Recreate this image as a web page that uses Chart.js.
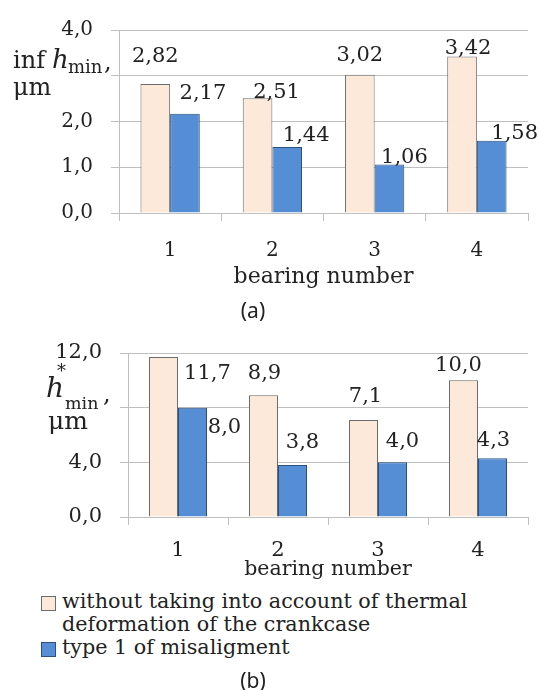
<!doctype html>
<html lang="en">
<head>
<meta charset="utf-8">
<title>Minimum film thickness by bearing</title>
<script src="https://cdn.jsdelivr.net/npm/chart.js@4.4.1/dist/chart.umd.min.js"></script>
<style>
  body { margin: 0; background: #fff; }
  #wrap { position: relative; width: 539px; height: 690px; font-family: 'DejaVu Serif', serif; color: #222; }
  .box { position: absolute; left: 0; width: 539px; }
  .t { position: absolute; white-space: nowrap; line-height: 1; }
  .cap { position: absolute; font-family: 'Noto Sans', sans-serif; font-size: 21px; transform: translate(-50%, -50%); }
  .legend { position: absolute; left: 41px; top: 590px; font-size: 20.7px; line-height: 23px; }
  .legend div { position: relative; padding-left: 21px; }
  .legend span { position: absolute; left: 0; top: 6px; width: 15px; height: 15px; box-sizing: border-box; }
</style>
</head>
<body>
<div id="wrap">
  <div class="box" style="top:0;height:300px"><canvas id="chartA"></canvas></div>
  <div class="box" style="top:320px;height:262px"><canvas id="chartB"></canvas></div>

  <!-- y axis titles, placed over the tick label column like the original -->
  <span class="t" style="left:13px;top:48px;font-size:24px">inf</span>
  <span class="t" style="left:52px;top:46px;font-size:26px;font-style:italic">h</span>
  <span class="t" style="left:68px;top:58px;font-size:18px">min</span>
  <span class="t" style="left:104px;top:50px;font-size:24px">,</span>
  <span class="t" style="left:13px;top:75px;font-size:24px">&mu;m</span>

  <span class="t" style="left:46px;top:374px;font-size:28px;font-style:italic">h</span>
  <span class="t" style="left:57px;top:362px;font-size:18px">*</span>
  <span class="t" style="left:65px;top:395px;font-size:17.5px">min</span>
  <span class="t" style="left:103px;top:382px;font-size:24px">,</span>
  <span class="t" style="left:48px;top:408px;font-size:25px">&mu;m</span>

  <div class="cap" style="left:253px;top:310px">(a)</div>
  <div class="legend" id="legend"></div>
  <div class="cap" style="left:253px;top:680px">(b)</div>
</div>
<script>
    // data
    const bearings = ['1', '2', '3', '4'];
    const seriesNames = ['without taking into account of thermal deformation of the crankcase', 'type 1 of misaligment'];
    const hminA_noThermal = [2.82, 2.51, 3.02, 3.42];
    const hminA_misalign = [2.17, 1.44, 1.06, 1.58];
    const hminB_noThermal = [11.7, 8.9, 7.1, 10.0];
    const hminB_misalign = [8.0, 3.8, 4.0, 4.3];
    const yTickLabelsA = ['0,0', '1,0', '2,0', '', '4,0'];
    const yTickLabelsB = ['0,0', '4,0', '', '12,0'];

    const peach = '#FDE9D9', peachLine = '#6b6b6b';
    const blue = '#558ED5', blueLine = '#2c4f7c';
    const gridColor = '#BFBFBF';
    const serif = 'DejaVu Serif';

    // labels above bars, with small nudges like the hand-placed ones in the original
    const valueLabels = {
        id: 'valueLabels',
        afterDatasetsDraw(chart, args, opts) {
            const ctx = chart.ctx;
            ctx.save();
            ctx.font = opts.size + 'px "' + serif + '"';
            ctx.fillStyle = '#222';
            ctx.textAlign = 'center';
            ctx.textBaseline = 'middle';
            chart.data.datasets.forEach((ds, di) => {
                chart.getDatasetMeta(di).data.forEach((bar, i) => {
                    const n = opts.nudge[di][i];
                    const txt = ds.data[i].toFixed(opts.digits).replace('.', ',');
                    ctx.fillText(txt, bar.x + n[0], bar.y + n[1]);
                });
            });
            ctx.restore();
        }
    };

    function makeChart(id, a, b, cfg) {
        return new Chart(document.getElementById(id), {
            type: 'bar',
            data: {
                labels: bearings,
                datasets: [
                    { label: seriesNames[0], data: a, backgroundColor: peach, borderColor: peachLine, borderWidth: 1 },
                    { label: seriesNames[1], data: b, backgroundColor: blue, borderColor: blueLine, borderWidth: 1 }
                ]
            },
            options: {
                responsive: true,
                maintainAspectRatio: false,
                animation: false,
                categoryPercentage: 0.58,
                barPercentage: 1.0,
                layout: { padding: { left: 0, right: 11, top: cfg.top, bottom: 0 } },
                plugins: {
                    legend: { display: false },
                    tooltip: { enabled: false },
                    valueLabels: { size: cfg.valSize, digits: cfg.digits, nudge: cfg.nudge }
                },
                scales: {
                    x: {
                        grid: { offset: true, drawOnChartArea: false, tickLength: 8, color: gridColor },
                        border: { color: gridColor },
                        ticks: { color: '#222', font: { family: serif, size: cfg.tickSize }, padding: cfg.xPad },
                        title: { display: true, text: 'bearing number', color: '#222', font: { family: serif, size: cfg.titleSize }, padding: { top: 0, bottom: cfg.titlePad } },
                        afterFit: s => { s.height = cfg.xHeight; }
                    },
                    y: {
                        min: 0, max: cfg.max,
                        grid: { color: gridColor, tickLength: 8 },
                        border: { color: gridColor },
                        ticks: {
                            stepSize: cfg.step,
                            color: '#222',
                            font: { family: serif, size: cfg.tickSize },
                            padding: 18,
                            callback: (v, i) => cfg.yLabels[i]
                        },
                        afterFit: s => { s.width = cfg.yWidth; }
                    }
                }
            },
            plugins: [valueLabels]
        });
    }

    makeChart('chartA', hminA_noThermal, hminA_misalign, {
        top: 24, max: 4, step: 1, yLabels: yTickLabelsA, yWidth: 119, xHeight: 87,
        tickSize: 20, titleSize: 22, titlePad: 10, xPad: 18, valSize: 21, digits: 2,
        nudge: [[[0, -27], [19, -6], [0, -19], [6, -8]], [[18, -20], [19, -12], [15, -7], [23, -7]]]
    });

    makeChart('chartB', hminB_noThermal, hminB_misalign, {
        top: 33, max: 12, step: 4, yLabels: yTickLabelsB, yWidth: 128, xHeight: 65,
        tickSize: 21, titleSize: 20.5, titlePad: 0, xPad: 13, valSize: 21, digits: 1,
        nudge: [[[44, 16], [1, -22], [2, -23], [-5, -15]], [[32, 20], [10, -23], [10, -21], [1, -18]]]
    });

    // legend for (b) built from the dataset settings
    const legend = document.getElementById('legend');
    [[seriesNames[0], peach, peachLine], [seriesNames[1], blue, blueLine]].forEach(([name, fill, line]) => {
        const row = document.createElement('div');
        row.innerHTML = '<span style="background:' + fill + ';border:1px solid ' + line + '"></span>' +
            name.replace(' deformation', '<br>deformation');
        legend.appendChild(row);
    });
</script>
</body>
</html>
